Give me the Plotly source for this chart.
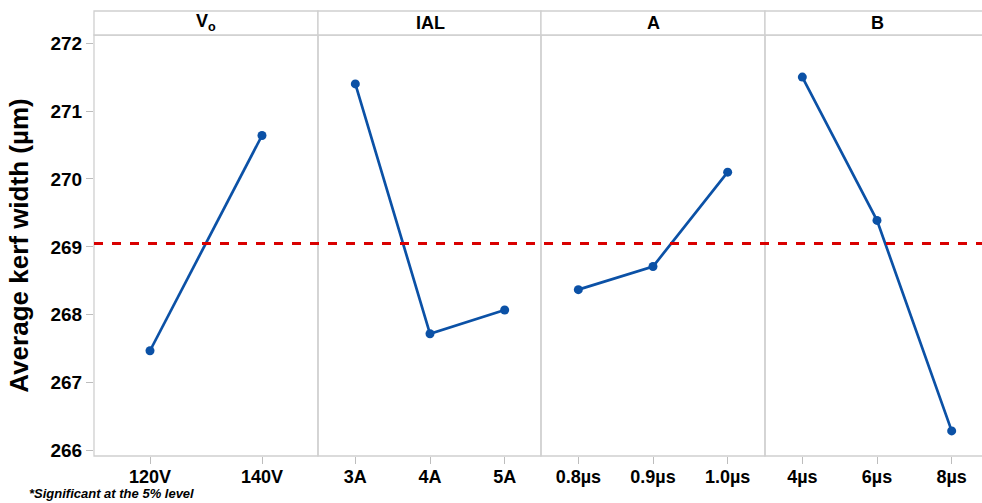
import plotly.graph_objects as go

# Main-effects means for average kerf width (µm)
factors = ["V<sub>o</sub>", "IAL", "A", "B"]
levels = [
    ["120V", "140V"],
    ["3A", "4A", "5A"],
    ["0.8µs", "0.9µs", "1.0µs"],
    ["4µs", "6µs", "8µs"],
]
means = [
    [267.47, 270.64],
    [271.40, 267.72, 268.07],
    [268.37, 268.71, 270.10],
    [271.50, 269.39, 266.29],
]
grand_mean = 269.05
y_ticks = [266, 267, 268, 269, 270, 271, 272]

FONT = "Liberation Sans, Arial, sans-serif"
BLUE = "#0b51a6"
RED = "#d90000"
GRID = "#cfcfcf"

W, H = 982, 503
ML, MR, MT, MB = 94, 0, 35, 47
PW = W - ML - MR
PH = H - MT - MB
strip_h = 24 / PH

# panel edges in pixels; the last panel runs off the right edge of the page
edges = [94, 318, 541, 765, 982]
panel_px = 224.0

fig = go.Figure()
shapes = []
annotations = []

for i, (fac, lv, mv) in enumerate(zip(factors, levels, means)):
    xa = "x" if i == 0 else f"x{i+1}"
    xkey = "xaxis" if i == 0 else f"xaxis{i+1}"
    pos = list(range(1, len(lv) + 1))
    fig.add_trace(go.Scatter(
        x=pos, y=mv, xaxis=xa, yaxis="y",
        mode="lines+markers",
        line=dict(color=BLUE, width=2.7),
        marker=dict(color=BLUE, size=9),
        showlegend=False, hoverinfo="skip",
    ))
    d0 = (edges[i] - ML) / PW
    d1 = (edges[i + 1] - ML) / PW
    width_px = edges[i + 1] - edges[i]
    span = len(lv) * width_px / panel_px
    fig.layout[xkey] = dict(
        domain=[d0, d1], anchor="y", range=[0.5, 0.5 + span],
        tickvals=pos, ticktext=lv, ticks="outside", ticklen=7,
        ticklabelstandoff=-3,
        tickcolor="#bdbdbd", showgrid=False, zeroline=False,
        showline=False, fixedrange=True,
        tickfont=dict(family=FONT, size=18, color="black", weight="bold"),
    )
    x1_frame = d1 + (0.02 if i == len(factors) - 1 else 0)
    # panel frame
    shapes.append(dict(type="rect", xref="paper", yref="paper",
                       x0=d0, x1=x1_frame, y0=0, y1=1,
                       line=dict(color=GRID, width=1.3), layer="below"))
    # header strip
    shapes.append(dict(type="rect", xref="paper", yref="paper",
                       x0=d0, x1=x1_frame, y0=1, y1=1 + strip_h,
                       line=dict(color=GRID, width=1.3), fillcolor="white"))
    cx = (edges[i] + panel_px / 2 - ML) / PW
    annotations.append(dict(
        text=f"<b>{fac}</b>", xref="paper", yref="paper",
        x=cx, y=1 + strip_h / 2, xanchor="center", yanchor="middle",
        showarrow=False, font=dict(family=FONT, size=18, color="black"),
    ))

# grand mean reference line
shapes.append(dict(type="line", xref="paper", yref="y", x0=0, x1=1.02,
                   y0=grand_mean, y1=grand_mean,
                   line=dict(color=RED, width=3, dash="dash")))

annotations.append(dict(
    text="<b><i>*Significant at the 5% level</i></b>", xref="paper", yref="paper",
    x=-(ML - 27) / PW, y=-MB / PH,
    xanchor="left", yanchor="bottom", showarrow=False,
    font=dict(family=FONT, size=13, color="black"),
))

fig.update_layout(
    width=W, height=H,
    margin=dict(l=ML, r=MR, t=MT, b=MB),
    paper_bgcolor="white", plot_bgcolor="white",
    yaxis=dict(
        range=[265.92, 272.12], tickvals=y_ticks, ticks="outside", ticklen=7,
        tickcolor="#bdbdbd", showgrid=False, zeroline=False, showline=False,
        fixedrange=True,
        tickfont=dict(family=FONT, size=19, color="black", weight="bold"),
        title=dict(text="<b>Average kerf width (µm)</b>", standoff=14,
                   font=dict(family=FONT, size=26, color="black")),
    ),
    shapes=shapes,
    annotations=annotations,
)

fig.write_html("out.html")
